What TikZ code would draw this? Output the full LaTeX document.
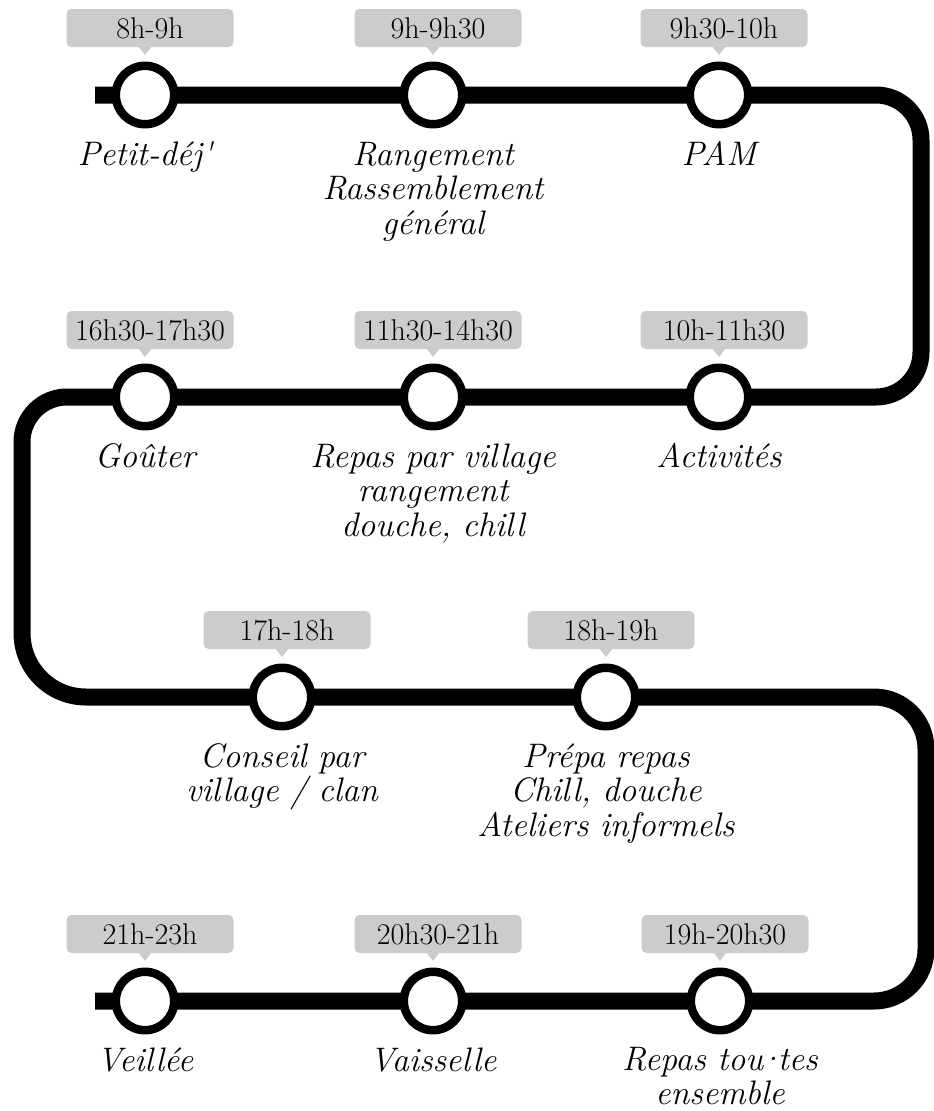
\documentclass[tikz,border=0pt]{standalone}
\begin{document}
\begin{tikzpicture}[x=1pt,y=-1pt,
  rail/.style={line width=17pt, line cap=butt, line join=round},
  stop/.style={circle, draw, fill=white, line width=8.5pt, minimum size=58.4pt, inner sep=0pt},
  tagbox/.style={rectangle, rounded corners=5pt, fill=black!20, minimum width=167pt, minimum height=38pt, inner sep=0pt, font=\fontsize{30}{31}\selectfont},
  tagtip/.style={fill=black!20},
  lab/.style={text width=330pt, align=center, anchor=base, inner sep=0pt, font=\itshape\fontsize{34}{34.5}\selectfont}]
\useasboundingbox (0,0) rectangle (934,1111);
% track
\coordinate (p0) at (95,95);
\coordinate (c1) at (921,95);
\coordinate (c2) at (921,397);
\coordinate (c3) at (22,397);
\coordinate (c4) at (22,697);
\coordinate (c5) at (926,697);
\coordinate (c6) at (926,1001);
\coordinate (p7) at (95,1001);
\draw[rail, rounded corners=45pt] (p0) -- (c1) -- (c2) -- (c3) [rounded corners=64pt] -- (c4) [rounded corners=52pt] -- (c5) -- (c6) -- (p7);
% stops
\node[stop] (s1) at (145,95) {};
\node[stop] (s2) at (433,95) {};
\node[stop] (s3) at (719,95) {};
\node[stop] (s4) at (719,397) {};
\node[stop] (s5) at (433,397) {};
\node[stop] (s6) at (145,397) {};
\node[stop] (s7) at (282,697) {};
\node[stop] (s8) at (606,697) {};
\node[stop] (s9) at (720,1001) {};
\node[stop] (s10) at (433,1001) {};
\node[stop] (s11) at (145,1001) {};
% tags
\foreach \s/\t in {s1/8h-9h, s2/9h-9h30, s3/9h30-10h, s4/10h-11h30, s5/11h30-14h30, s6/16h30-17h30, s7/17h-18h, s8/18h-19h, s9/19h-20h30, s10/20h30-21h, s11/21h-23h}{
  \node[tagbox] (t\s) at ([shift={(5,-67)}]\s.center) {\t};
  \fill[tagtip] ([shift={(0,-40)}]\s.center) -- ++(-7,-9) -- ++(14,0) -- cycle;
}
% labels
\node[lab] (l1) at ([shift={(0,70)}]s1.center) {Petit-déj\textquotesingle};
\node[lab] (l2) at ([shift={(0,70)}]s2.center) {Rangement\\Rassemblement\\général};
\node[lab] (l3) at ([shift={(0,70)}]s3.center) {PAM};
\node[lab] (l4) at ([shift={(0,70)}]s4.center) {Activités};
\node[lab] (l5) at ([shift={(0,70)}]s5.center) {Repas par village\\rangement\\douche, chill};
\node[lab] (l6) at ([shift={(0,70)}]s6.center) {Goûter};
\node[lab] (l7) at ([shift={(0,70)}]s7.center) {Conseil par\\village / clan};
\node[lab] (l8) at ([shift={(0,70)}]s8.center) {Prépa repas\\Chill, douche\\Ateliers informels};
\node[lab] (l9) at ([shift={(0,69)}]s9.center) {Repas tou\kern-.16em·\kern-.16em tes\\ensemble};
\node[lab] (l10) at ([shift={(0,70)}]s10.center) {Vaisselle};
\node[lab] (l11) at ([shift={(0,70)}]s11.center) {Veillée};
\end{tikzpicture}
\end{document}
